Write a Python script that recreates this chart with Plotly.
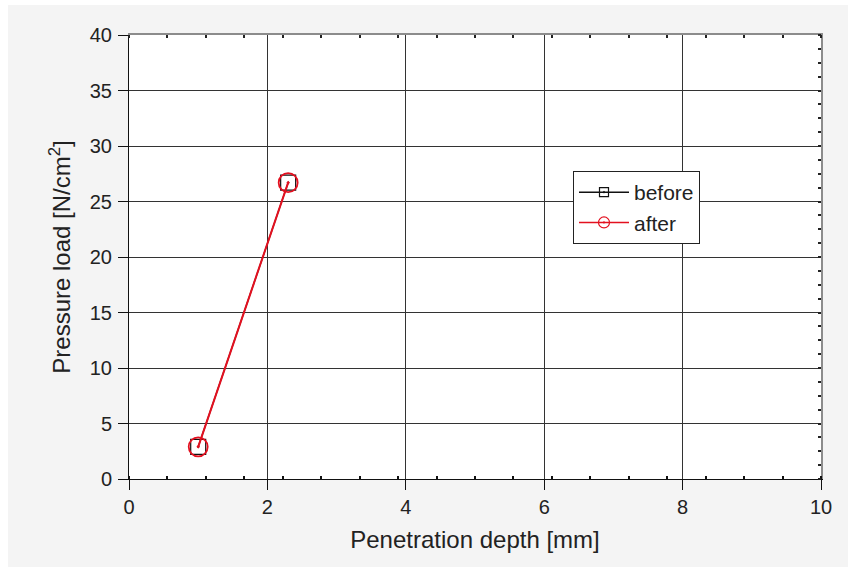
import plotly.graph_objects as go

# Data
depth_before = [1.0, 2.3]
load_before = [2.9, 26.7]
depth_after = [1.0, 2.3]
load_after = [2.9, 26.7]

x_ticks = [0, 2, 4, 6, 8, 10]
y_ticks = [0, 5, 10, 15, 20, 25, 30, 35, 40]

FONT = "Liberation Sans, Arial, Helvetica, sans-serif"
TXT = "#222222"
BLACK = "#111111"
RED = "#e3101f"

fig = go.Figure()

fig.add_trace(go.Scatter(
    x=depth_before, y=load_before, name="before", mode="lines+markers",
    legendgroup="before", showlegend=False,
    line=dict(color=BLACK, width=1.3),
    marker=dict(symbol="square-open-dot", size=15, color=BLACK,
                line=dict(color=BLACK, width=1.2)),
))
fig.add_trace(go.Scatter(
    x=depth_after, y=load_after, name="after", mode="lines+markers",
    legendgroup="after", showlegend=False,
    line=dict(color=RED, width=2),
    marker=dict(symbol="circle-open-dot", size=19, color=RED,
                line=dict(color=RED, width=1.8)),
))
# legend entries (smaller symbols, like the reference legend)
fig.add_trace(go.Scatter(
    x=[None], y=[None], name="before", mode="lines+markers", legendgroup="before",
    line=dict(color=BLACK, width=1.5),
    marker=dict(symbol="square-open-dot", size=9, color=BLACK,
                line=dict(color=BLACK, width=1.2)),
))
fig.add_trace(go.Scatter(
    x=[None], y=[None], name="after", mode="lines+markers", legendgroup="after",
    line=dict(color=RED, width=1.5),
    marker=dict(symbol="circle-open-dot", size=11, color=RED,
                line=dict(color=RED, width=1.2)),
))
# empty trace to instantiate the mirrored (top/right) axes
fig.add_trace(go.Scatter(x=[], y=[], xaxis="x2", yaxis="y2", showlegend=False,
                         hoverinfo="skip"))

# Panel background: grey card with a white plot area
fig.add_shape(type="rect", xref="paper", yref="paper",
              x0=(8 - 129) / 692, x1=(848 - 129) / 692,
              y0=(479 - 567) / 444, y1=(479 - 5) / 444,
              fillcolor="#f4f4f4", line=dict(width=0), layer="below")
fig.add_shape(type="rect", xref="paper", yref="paper",
              x0=0, x1=1, y0=0, y1=1,
              fillcolor="white", line=dict(width=0), layer="below")

fig.update_layout(
    width=856, height=570,
    margin=dict(l=129, r=35, t=35, b=91),
    paper_bgcolor="white",
    plot_bgcolor="white",
    font=dict(family=FONT, size=20, color=TXT),
    showlegend=True,
    legend=dict(
        x=(573 - 129) / 692, y=(479 - 171) / 444,
        xanchor="left", yanchor="top",
        bgcolor="white", bordercolor="#222222", borderwidth=1,
        font=dict(family=FONT, size=21, color=TXT),
        itemwidth=50, tracegroupgap=0,
    ),
    xaxis=dict(
        range=[0, 10], tickvals=x_ticks, ticktext=[str(v) for v in x_ticks],
        showgrid=True, gridcolor="#333333", gridwidth=1,
        showline=True, linecolor=BLACK, linewidth=1,
        ticks="outside", ticklen=10, tickcolor=BLACK, tickwidth=1,
        minor=dict(dtick=10 / 18, tick0=0, ticks="inside", ticklen=3,
                   tickcolor=BLACK, tickwidth=2, showgrid=False),
        zeroline=False,
        title=dict(text="Penetration depth [mm]", font=dict(size=24, color=TXT),
                   standoff=14),
        tickfont=dict(size=20, color=TXT),
    ),
    yaxis=dict(
        range=[0, 40], tickvals=y_ticks, ticktext=[str(v) for v in y_ticks],
        showgrid=True, gridcolor="#333333", gridwidth=1,
        showline=True, linecolor=BLACK, linewidth=1,
        ticks="outside", ticklen=10, tickcolor=BLACK, tickwidth=1,
        zeroline=False,
        title=dict(text="Pressure load [N/cm<sup>2</sup>]", font=dict(size=24, color=TXT),
                   standoff=12),
        tickfont=dict(size=20, color=TXT),
        ticklabelstandoff=2,
    ),
    xaxis2=dict(
        overlaying="x", side="top", anchor="y2", range=[0, 10],
        showline=True, linecolor="#8c8c8c", linewidth=2,
        showgrid=False, zeroline=False, showticklabels=False,
        tickvals=[], ticks="",
        minor=dict(dtick=10 / 18, tick0=0, ticks="inside", ticklen=3,
                   tickcolor="#222222", tickwidth=2, showgrid=False),
    ),
    yaxis2=dict(
        overlaying="y", side="right", anchor="x2", range=[0, 40],
        showline=True, linecolor="#8c8c8c", linewidth=2,
        showgrid=False, zeroline=False, showticklabels=False,
        tickvals=[], ticks="",
        minor=dict(dtick=1.25, tick0=0, ticks="inside", ticklen=3,
                   tickcolor="#222222", tickwidth=2, showgrid=False),
    ),
)

fig.write_html("out.html", config={"displayModeBar": False},
               post_script="document.body.style.margin='0';")
